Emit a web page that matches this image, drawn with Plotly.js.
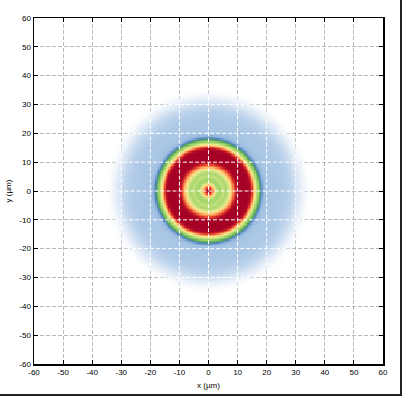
<!DOCTYPE html>
<html>
<head>
<meta charset="utf-8">
<script src="https://cdn.plot.ly/plotly-3.0.1.min.js"></script>
<style>
html,body{margin:0;padding:0;background:#fff;}
#plot{width:400px;height:394px;border-right:2px solid #222;border-bottom:2px solid #222;}
</style>
</head>
<body>
<div id="plot"></div>
<script>
// Radial intensity profile (radius in µm, normalised intensity)
const profileRadius = [0, 0.6, 1.2, 1.8, 2.5, 3.2, 4, 5, 6, 7, 7.8, 8.5, 9.2, 9.8, 10.5, 13.5, 14.5, 15.2, 15.8, 16.5, 17.3, 18, 18.7, 19.5, 21, 25, 27, 29, 31, 33, 35, 36, 45];
const profileValue  = [1.0, 0.97, 0.86, 0.74, 0.63, 0.56, 0.54, 0.6, 0.555, 0.62, 0.7, 0.8, 0.9, 0.97, 1.0, 1.0, 0.98, 0.86, 0.72, 0.6, 0.5, 0.4, 0.3, 0.24, 0.22, 0.21, 0.19, 0.15, 0.09, 0.04, 0.01, 0, 0];
// Axis ticks
const tickValues = [-60, -50, -40, -30, -20, -10, 0, 10, 20, 30, 40, 50, 60];
const tickLabels = ['-60', '-50', '-40', '-30', '-20', '-10', '0', '10', '20', '30', '40', '50', '60'];
const xTitle = 'x (µm)';
const yTitle = 'y (µm)';

// sampling grid for the field (µm)
const gridHalf = 40, gridStep = 0.5;
const coords = [];
for (let v = -gridHalf; v <= gridHalf + 1e-9; v += gridStep) coords.push(+v.toFixed(3));

function profileAt(r) {
  for (let i = 1; i < profileRadius.length; i++) {
    if (r <= profileRadius[i]) {
      const r0 = profileRadius[i - 1], r1 = profileRadius[i];
      const t = (r - r0) / (r1 - r0);
      return profileValue[i - 1] + t * (profileValue[i] - profileValue[i - 1]);
    }
  }
  return profileValue[profileValue.length - 1];
}
const z = coords.map(y => coords.map(x => profileAt(Math.sqrt(x * x + y * y))));

const colorscale = [
  [0.0, 'rgba(255,255,255,0)'],
  [0.04, 'rgba(235,242,250,0.7)'],
  [0.08, '#e0eaf6'],
  [0.15, '#c3d7ed'],
  [0.21, '#adc9e6'],
  [0.28, '#8fb3db'],
  [0.36, '#5283c2'],
  [0.44, '#52a656'],
  [0.5, '#86c560'],
  [0.54, '#a3d36b'],
  [0.6, '#c3e07f'],
  [0.64, '#e4e98a'],
  [0.68, '#fde08b'],
  [0.76, '#fdae61'],
  [0.84, '#f46d43'],
  [0.91, '#d73027'],
  [1.0, '#a50026']
];

const trace = {
  type: 'heatmap', x: coords, y: coords, z: z,
  zmin: 0, zmax: 1, colorscale: colorscale, showscale: false,
  zsmooth: false, hoverinfo: 'skip'
};

// white dashed grid drawn over the coloured disc
const discR = 33;
const shapes = [];
tickValues.slice(1, -1).forEach(t => {
  if (Math.abs(t) < discR) {
    const h = Math.sqrt(discR * discR - t * t);
    shapes.push({type: 'line', xref: 'x', yref: 'y', x0: t, x1: t, y0: -h, y1: h,
      line: {color: '#ffffff', width: 1, dash: '4px,2px'}, layer: 'above'});
    shapes.push({type: 'line', xref: 'x', yref: 'y', y0: t, y1: t, x0: -h, x1: h,
      line: {color: '#ffffff', width: 1, dash: '4px,2px'}, layer: 'above'});
  }
});

const axisCommon = {
  range: [-60, 60], tickmode: 'array', tickvals: tickValues, ticktext: tickLabels,
  showline: true, mirror: 'ticks', linecolor: '#000', linewidth: 1.5,
  ticks: 'inside', ticklen: 4, tickwidth: 1, tickcolor: '#000',
  showgrid: true, gridcolor: '#b8b8b8', griddash: '4px,2px', gridwidth: 1,
  zeroline: false, tickfont: {family: 'Liberation Sans, Arial, sans-serif', size: 8, color: '#000'},
  fixedrange: true, automargin: false
};

const layout = {
  width: 400, height: 394,
  margin: {l: 34, r: 17, t: 18, b: 30, pad: 0},
  paper_bgcolor: '#ffffff', plot_bgcolor: '#ffffff',
  font: {family: 'Liberation Sans, Arial, sans-serif', size: 8, color: '#000'},
  xaxis: Object.assign({}, axisCommon, {title: {text: xTitle, standoff: 6, font: {size: 8}}}),
  yaxis: Object.assign({}, axisCommon, {title: {text: yTitle, standoff: 6, font: {size: 8}}}),
  shapes: shapes,
  showlegend: false
};

Plotly.newPlot('plot', [trace], layout, {displayModeBar: false, staticPlot: true});
</script>
</body>
</html>
